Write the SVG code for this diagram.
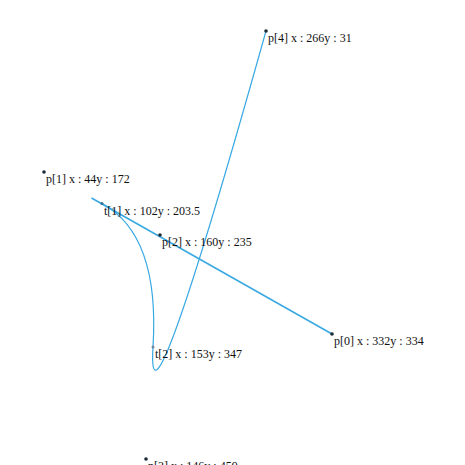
<svg xmlns="http://www.w3.org/2000/svg" width="465" height="465" viewBox="0 0 465 465">
<style>
.c{fill:none;stroke:#3aa9e2;stroke-width:1.2}
.l{fill:none;stroke:#3aa9e2;stroke-width:1.6}
.d{fill:#1a2a36}
.t{font-family:"Liberation Serif",serif;font-size:12px;fill:#111}
</style>
<rect width="465" height="465" fill="#fff"/>
<g id="connectors">
<path class="l" d="M332,334 L91.5,198"/>
<path class="c" d="M102,203.5 Q160,235 153,347 Q146,459 266,31"/>
</g>
<g id="p0"><circle class="d" cx="332" cy="334" r="1.8"/><text class="t" x="334" y="345">p[0] x : 332y : 334</text></g>
<g id="p1"><circle class="d" cx="44" cy="172" r="1.8"/><text class="t" x="46" y="183">p[1] x : 44y : 172</text></g>
<g id="p2"><circle class="d" cx="160" cy="235" r="1.8"/><text class="t" x="162" y="246">p[2] x : 160y : 235</text></g>
<g id="p3"><circle class="d" cx="146" cy="459" r="1.8"/><text class="t" x="148" y="470">p[3] x : 146y : 459</text></g>
<g id="p4"><circle class="d" cx="266" cy="31" r="1.8"/><text class="t" x="268" y="42">p[4] x : 266y : 31</text></g>
<g id="t1"><circle cx="102" cy="203.5" r="1.5" fill="#3a6f90"/><text class="t" x="104" y="214.5">t[1] x : 102y : 203.5</text></g>
<g id="t2"><circle cx="153" cy="347" r="1.5" fill="#6a88a0"/><text class="t" x="155" y="358">t[2] x : 153y : 347</text></g>
</svg>
